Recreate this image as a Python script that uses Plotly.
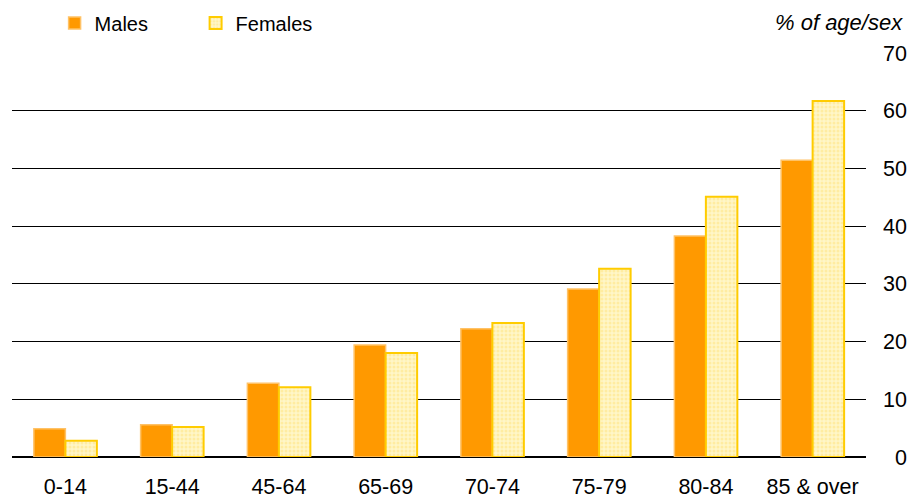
import plotly.graph_objects as go

age_groups = ["0-14", "15-44", "45-64", "65-69", "70-74", "75-79", "80-84", "85 & over"]
males = [4.9, 5.6, 12.8, 19.4, 22.2, 29.1, 38.3, 51.4]
females = [2.8, 5.2, 12.1, 18.0, 23.2, 32.6, 45.1, 61.7]
y_ticks = [0, 10, 20, 30, 40, 50, 60, 70]

FONT = "Liberation Sans, Arial, sans-serif"
FS_AXIS = 21.5
FS_LEGEND = 20

fig = go.Figure()
fig.add_trace(go.Bar(
    name="Males", x=age_groups, y=males,
    marker=dict(color="#FF9900", line=dict(color="#FFC266", width=1.5)),
))
fig.add_trace(go.Bar(
    name="Females", x=age_groups, y=females,
    marker=dict(
        color="#FFF6C8",
        line=dict(color="#FFCC00", width=2),
        pattern=dict(shape=".", fgcolor="#FFE27A", size=4, solidity=0.45),
    ),
))

fig.update_layout(
    width=910, height=498,
    margin=dict(l=12, r=44, t=53, b=41, autoexpand=False),
    paper_bgcolor="white", plot_bgcolor="white",
    barmode="group", bargap=0.41, bargroupgap=0,
    font=dict(family=FONT, size=FS_AXIS, color="black"),
    showlegend=True,
    legend=dict(
        orientation="h", x=0.06, y=0.954, xref="container", yref="container",
        xanchor="left", yanchor="middle",
        font=dict(size=FS_LEGEND), itemwidth=30, traceorder="normal",
        entrywidthmode="pixels", entrywidth=96,
        bgcolor="rgba(0,0,0,0)",
    ),
    xaxis=dict(
        showgrid=False, showline=False, ticks="", zeroline=False,
        tickfont=dict(size=FS_AXIS), ticklabelstandoff=14, automargin=False,
    ),
    yaxis=dict(
        side="right", range=[0, 70], tickvals=y_ticks,
        ticktext=[("\u2007" + str(v)) if v < 10 else str(v) for v in y_ticks],
        showgrid=True, gridcolor="black", gridwidth=1,
        zeroline=True, zerolinecolor="black", zerolinewidth=1.5,
        showline=False, ticks="", tickfont=dict(size=FS_AXIS),
        ticklabelstandoff=16, automargin=False,
    ),
    annotations=[dict(
        text="<i>% of age/sex</i>", xref="paper", yref="paper",
        x=1.046, y=1.0, yshift=31, xanchor="right", yanchor="middle",
        showarrow=False, font=dict(size=22),
    )],
)

fig.write_html("out.html")
